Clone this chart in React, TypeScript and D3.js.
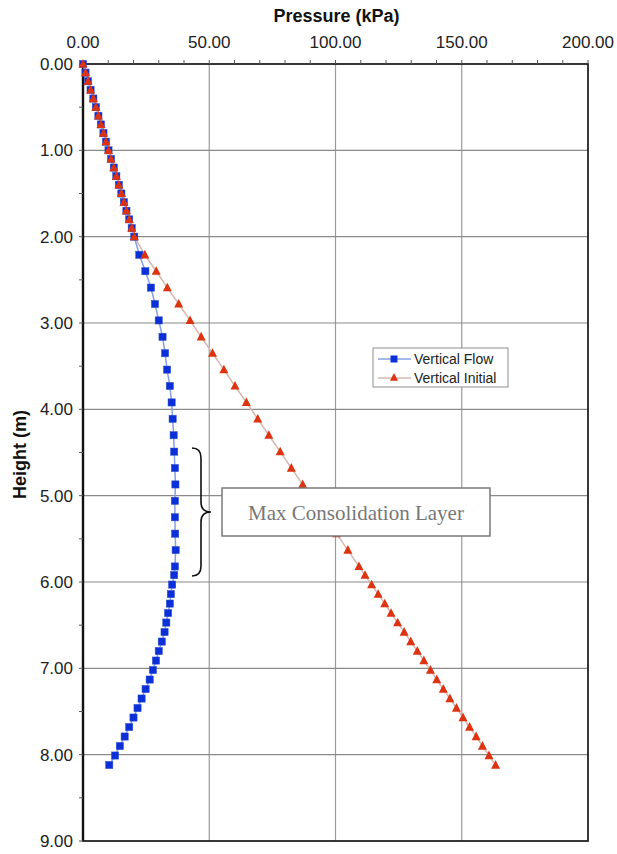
import React from 'react';
import * as d3 from 'd3';

// depth of each reading (m)
const heights = [
  0.0, 0.1, 0.2, 0.3, 0.4, 0.5, 0.6, 0.7, 0.8, 0.9, 1.0, 1.1, 1.2, 1.3, 1.4, 1.5, 1.6, 1.7, 1.8, 1.9, 2.0,
  2.21, 2.40, 2.59, 2.78, 2.97, 3.16, 3.35, 3.54, 3.73, 3.92, 4.11, 4.30, 4.49, 4.68, 4.87, 5.06, 5.25, 5.44, 5.63, 5.82,
  5.92, 6.03, 6.14, 6.25, 6.36, 6.47, 6.58, 6.69, 6.80, 6.91, 7.02, 7.13, 7.24, 7.35, 7.46, 7.57, 7.68, 7.79, 7.90, 8.01, 8.12,
];

// Vertical Flow (kPa)
const flowKPa = [
  0.0, 1.0, 2.0, 3.0, 4.1, 5.1, 6.1, 7.1, 8.1, 9.1, 10.1, 11.1, 12.2, 13.2, 14.2, 15.2, 16.2, 17.2, 18.3, 19.3, 20.3,
  22.3, 24.7, 26.9, 28.5, 30.0, 31.5, 32.5, 33.3, 34.4, 35.1, 35.5, 35.9, 36.1, 36.4, 36.6, 36.4, 36.4, 36.5, 36.7, 36.4,
  36.1, 35.3, 34.8, 34.4, 33.7, 33.0, 32.3, 31.2, 30.0, 28.9, 27.7, 26.4, 24.8, 23.2, 21.6, 20.0, 18.3, 16.5, 14.6, 12.7, 10.4,
];

// Vertical Initial (kPa)
const initialKPa = [
  0.0, 1.0, 2.0, 3.0, 4.1, 5.1, 6.1, 7.1, 8.1, 9.1, 10.1, 11.1, 12.2, 13.2, 14.2, 15.2, 16.2, 17.2, 18.3, 19.3, 20.3,
  24.5, 29.0, 33.4, 37.9, 42.4, 46.8, 51.3, 55.8, 60.2, 64.7, 69.2, 73.6, 78.1, 82.5, 87.0, 91.5, 95.9, 100.4, 104.9, 109.3,
  111.7, 114.3, 116.9, 119.5, 122.0, 124.6, 127.2, 129.8, 132.4, 135.0, 137.6, 140.1, 142.7, 145.3, 147.9, 150.5, 153.1, 155.7, 158.2, 160.8, 163.4,
];

const xTicks = [0, 50, 100, 150, 200];
const xMinor = [10, 20, 30, 40, 60, 70, 80, 90, 110, 120, 130, 140, 160, 170, 180, 190];
const yTicks = [0, 1, 2, 3, 4, 5, 6, 7, 8, 9];
const yMinor = [0.5, 1.5, 2.5, 3.5, 4.5, 5.5, 6.5, 7.5, 8.5];

const seriesNames = ['Vertical Flow', 'Vertical Initial'];
const noteText = 'Max Consolidation Layer';

const W = 617, H = 854;
const left = 83, right = 588, top = 64, bottom = 841;

export default function App() {
  const x = d3.scaleLinear().domain([0, 200]).range([left, right]);
  const y = d3.scaleLinear().domain([0, 9]).range([top, bottom]);
  const fmt = d3.format('.2f');
  const sans = 'Liberation Sans, Arial, sans-serif';

  const flowPts: [number, number][] = heights.map((h, i) => [flowKPa[i], h]);
  const initPts: [number, number][] = heights.map((h, i) => [initialKPa[i], h]);
  const line = d3.line<[number, number]>().x(d => x(d[0])).y(d => y(d[1]));

  const tri = (cx: number, cy: number, s: number) =>
    `M${cx},${cy - s * 0.55}L${cx + s / 2},${cy + s * 0.4}L${cx - s / 2},${cy + s * 0.4}Z`;

  // brace beside the consolidation layer
  const bx = 201, bTop = 448, bBot = 576, bMid = 512;
  const brace = `M192,${bTop} Q${bx},${bTop} ${bx},${bTop + 10} L${bx},${bMid - 10} Q${bx},${bMid} ${bx + 10},${bMid} ` +
    `Q${bx},${bMid} ${bx},${bMid + 10} L${bx},${bBot - 10} Q${bx},${bBot} 192,${bBot}`;

  const legX = 373, legY = 348;

  return (
    <svg width={W} height={H} style={{ position: 'absolute', left: 0, top: 0, background: '#fff' }}>
      {/* grid */}
      {xTicks.slice(1, -1).map(t => (
        <line key={'gx' + t} x1={x(t)} x2={x(t)} y1={top} y2={bottom} stroke="#9a9a9a" strokeWidth={1.2} />
      ))}
      {yTicks.slice(1, -1).map(t => (
        <line key={'gy' + t} x1={left} x2={right} y1={y(t)} y2={y(t)} stroke="#8a8a8a" strokeWidth={1.2} />
      ))}

      {/* frame */}
      <rect x={left} y={top} width={right - left} height={bottom - top} fill="none" stroke="#222" strokeWidth={1.8} />
      <line x1={left} x2={left} y1={top} y2={bottom} stroke="#111" strokeWidth={2.4} />

      {/* minor / major ticks */}
      {xMinor.concat(xTicks).map(t => (
        <line key={'tx' + t} x1={x(t)} x2={x(t)} y1={top - 4} y2={top} stroke="#555" strokeWidth={1} />
      ))}
      {yMinor.concat(yTicks).map(t => (
        <line key={'ty' + t} x1={left - 4} x2={left} y1={y(t)} y2={y(t)} stroke="#555" strokeWidth={1} />
      ))}

      {/* tick labels */}
      {xTicks.map(t => (
        <text key={'lx' + t} x={x(t)} y={48} textAnchor="middle" fontFamily={sans} fontSize={17} fill="#222">{fmt(t)}</text>
      ))}
      {yTicks.map(t => (
        <text key={'ly' + t} x={73} y={y(t) + 6} textAnchor="end" fontFamily={sans} fontSize={17} fill="#222">{fmt(t)}</text>
      ))}

      {/* axis titles */}
      <text x={(left + right) / 2 + 1} y={22} textAnchor="middle" fontFamily={sans} fontWeight="bold" fontSize={18} fill="#111">Pressure (kPa)</text>
      <text transform={`translate(26,${(top + bottom) / 2 + 2}) rotate(-90)`} textAnchor="middle" fontFamily={sans} fontWeight="bold" fontSize={18} fill="#111">Height (m)</text>

      {/* series lines */}
      <path d={line(flowPts) || ''} fill="none" stroke="#86a0e6" strokeWidth={1.5} />
      <path d={line(initPts) || ''} fill="none" stroke="#d4b8b0" strokeWidth={1.5} />

      {/* markers */}
      {flowPts.map((d, i) => (
        <rect key={'f' + i} x={x(d[0]) - 3.6} y={y(d[1]) - 3.6} width={7.2} height={7.2} fill="#0b2fd8" stroke="#3050c8" strokeWidth={0.5} />
      ))}
      {initPts.map((d, i) => (
        <path key={'n' + i} d={tri(x(d[0]), y(d[1]), 9)} fill="#dd3310" />
      ))}

      {/* legend */}
      <rect x={legX} y={legY} width={135} height={39} fill="#fff" stroke="#a0a0a0" strokeWidth={1.2} />
      <line x1={legX + 5} x2={legX + 38} y1={legY + 11} y2={legY + 11} stroke="#86a0e6" strokeWidth={1.5} />
      <rect x={legX + 17.5} y={legY + 7.5} width={7} height={7} fill="#0b2fd8" />
      <text x={legX + 41} y={legY + 16} fontFamily={sans} fontSize={14} fill="#222">{seriesNames[0]}</text>
      <line x1={legX + 5} x2={legX + 38} y1={legY + 30} y2={legY + 30} stroke="#d4b8b0" strokeWidth={1.5} />
      <path d={tri(legX + 21, legY + 29.5, 8)} fill="#dd3310" />
      <text x={legX + 41} y={legY + 35} fontFamily={sans} fontSize={14} fill="#222">{seriesNames[1]}</text>

      {/* annotation */}
      <path d={brace} fill="none" stroke="#111" strokeWidth={1.6} />
      <rect x={222} y={488} width={268} height={48} fill="#fff" stroke="#7a7a7a" strokeWidth={1.5} />
      <text x={356} y={520} textAnchor="middle" fontFamily="Liberation Serif, Times New Roman, serif" fontSize={21} fill="#777">{noteText}</text>
    </svg>
  );
}
